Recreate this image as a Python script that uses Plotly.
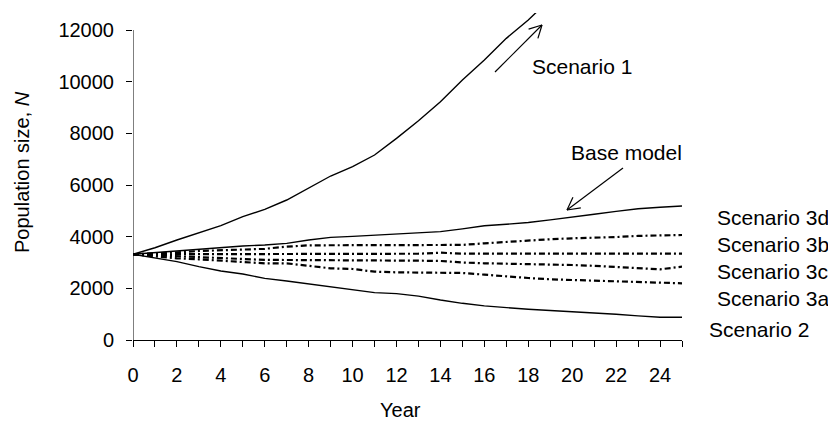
import math
import plotly.graph_objects as go

# ---- data ----
years = list(range(0, 26))
scenario1 = [3317, 3570, 3871, 4142, 4425, 4774, 5058, 5419, 5871, 6348, 6710, 7161, 7806,
             8490, 9226, 10065, 10839, 11677, 12387, 13200]
base_model = [3317, 3380, 3445, 3510, 3588, 3639, 3677, 3742, 3871, 3974, 4013, 4065, 4116,
              4168, 4194, 4300, 4425, 4480, 4550, 4650, 4750, 4870, 4980, 5080, 5140, 5190]
scenario2 = [3317, 3187, 3032, 2839, 2671, 2555, 2387, 2284, 2168, 2039, 1935, 1832, 1794,
             1700, 1550, 1420, 1320, 1250, 1190, 1140, 1100, 1045, 995, 935, 880, 880]
scenario3d = [3317, 3350, 3393, 3445, 3460, 3500, 3530, 3613, 3665, 3665, 3665, 3670, 3677,
              3677, 3680, 3680, 3742, 3800, 3860, 3900, 3936, 3955, 3985, 4030, 4050, 4065]
scenario3b = [3317, 3320, 3320, 3325, 3325, 3330, 3330, 3330, 3330, 3335, 3335, 3335, 3340,
              3340, 3380, 3340, 3340, 3342, 3342, 3342, 3342, 3342, 3342, 3342, 3342, 3345]
scenario3c = [3317, 3280, 3230, 3187, 3160, 3123, 3100, 3097, 3097, 3097, 3097, 3090, 3080,
              3071, 3060, 3000, 2970, 2960, 2940, 2920, 2903, 2870, 2830, 2780, 2736, 2839]
scenario3a = [3317, 3240, 3162, 3123, 3071, 3006, 2968, 2968, 2877, 2774, 2748, 2645, 2620,
              2610, 2600, 2594, 2530, 2452, 2400, 2349, 2320, 2290, 2258, 2230, 2210, 2194]

y_ticks = [0, 2000, 4000, 6000, 8000, 10000, 12000]
y_ticklabels = [str(v) for v in y_ticks]
x_ticks = list(range(0, 26))
x_ticklabels = [str(v) if v % 2 == 0 and v <= 24 else "" for v in x_ticks]

# ---- layout geometry (page has an 8px body margin) ----
OFF = 8
W, H = 836 - OFF, 424 - OFF
X0, X1 = 133 - OFF, 682 - OFF      # plot area (figure px)
YT, YB = 13 - OFF, 340 - OFF
Y_AXIS_TOP_PX = 30 - OFF           # where 12000 sits
YMAX = 12000 * (YB - YT) / (YB - Y_AXIS_TOP_PX)

FONT = dict(family="Liberation Sans, Arial, sans-serif", size=20, color="black")
LFONT = dict(family="Liberation Sans, Arial, sans-serif", size=21, color="black")


def px2paper(px, py):
    # px, py are screenshot coordinates
    fx, fy = px - OFF, py - OFF
    return (fx - X0) / (X1 - X0), (YB - fy) / (YB - YT)


fig = go.Figure()

solid = dict(color="black", width=1.4)
dashed = dict(color="black", width=2.2, dash="6px,3px,2px,3px")

fig.add_trace(go.Scatter(x=years[:len(scenario1)], y=scenario1, mode="lines", line=solid, name="Scenario 1"))
fig.add_trace(go.Scatter(x=years, y=base_model, mode="lines", line=solid, name="Base model"))
fig.add_trace(go.Scatter(x=years, y=scenario2, mode="lines", line=solid, name="Scenario 2"))
for nm, ser in [("Scenario 3d", scenario3d), ("Scenario 3b", scenario3b),
                ("Scenario 3c", scenario3c), ("Scenario 3a", scenario3a)]:
    fig.add_trace(go.Scatter(x=years, y=ser, mode="lines", line=dashed, name=nm))

shapes = []
# y axis line only up to 12000
shapes.append(dict(type="line", xref="x", yref="y", x0=0, x1=0, y0=0, y1=12000,
                   line=dict(color="black", width=1)))


def arrow(tail, head, length=14, ang=28):
    out = []
    (tx, ty), (hx, hy) = tail, head
    p0 = px2paper(tx, ty)
    p1 = px2paper(hx, hy)
    out.append(dict(type="line", xref="paper", yref="paper", x0=p0[0], y0=p0[1], x1=p1[0], y1=p1[1],
                    line=dict(color="black", width=1.2)))
    theta = math.atan2(ty - hy, tx - hx)
    for s in (-1, 1):
        a = theta + s * math.radians(ang)
        wx, wy = hx + length * math.cos(a), hy + length * math.sin(a)
        q = px2paper(wx, wy)
        out.append(dict(type="line", xref="paper", yref="paper", x0=p1[0], y0=p1[1], x1=q[0], y1=q[1],
                        line=dict(color="black", width=1.2)))
    return out


shapes += arrow((495, 72), (542, 25))
shapes += arrow((623, 168), (567, 210))

annotations = []


def label(text, px, py, xanchor="left", angle=0, font=LFONT):
    xp, yp = px2paper(px, py)
    annotations.append(dict(text=text, xref="paper", yref="paper", x=xp, y=yp, xanchor=xanchor,
                            yanchor="middle", showarrow=False, font=font, textangle=angle))


label("Scenario 1", 530, 66)
label("Base model", 569, 152)
label("Scenario 3d", 715, 217)
label("Scenario 3b", 715, 244)
label("Scenario 3c", 715, 271)
label("Scenario 3a", 715, 298)
label("Scenario 2", 707, 329)
label("Year", 400, 410, xanchor="center", font=FONT)
label("Population size, <i>N</i>", 22, 172, xanchor="center", angle=-90, font=FONT)

fig.update_layout(
    width=W, height=H,
    margin=dict(l=X0, r=W - X1, t=YT, b=H - YB),
    paper_bgcolor="white", plot_bgcolor="white",
    showlegend=False,
    font=FONT,
    shapes=shapes,
    annotations=annotations,
    xaxis=dict(range=[0, 25], tickvals=x_ticks, ticktext=x_ticklabels, ticks="outside",
               ticklen=6, tickcolor="black", showline=True, linecolor="black", linewidth=1,
               showgrid=False, zeroline=False, tickfont=FONT, ticklabelstandoff=11),
    yaxis=dict(range=[0, YMAX], tickvals=y_ticks, ticktext=y_ticklabels, ticks="outside",
               ticklen=6, tickcolor="black", showline=False, showgrid=False, zeroline=False,
               tickfont=FONT, ticklabelstandoff=8),
)

fig.write_html("out.html")
